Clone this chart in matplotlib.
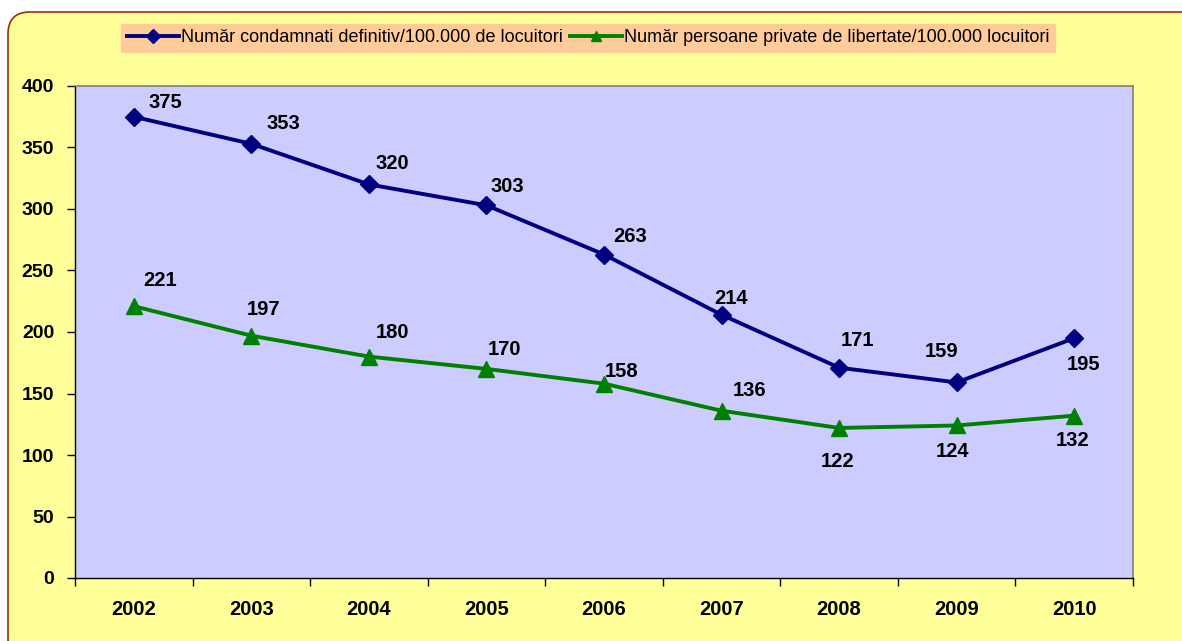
import matplotlib.pyplot as plt
from matplotlib.patches import FancyBboxPatch
from matplotlib.transforms import IdentityTransform
from matplotlib.ticker import FixedLocator

# -------------------------
# Data
# -------------------------
years = ["2002", "2003", "2004", "2005", "2006", "2007", "2008", "2009", "2010"]
condamnati = [375, 353, 320, 303, 263, 214, 171, 159, 195]
privati = [221, 197, 180, 170, 158, 136, 122, 124, 132]

label_condamnati = "Număr condamnati definitiv/100.000 de locuitori"
label_privati = "Număr persoane private de libertate/100.000 locuitori"

# label offsets (pixels, x right / y up) for the data labels
off_condamnati = [(32, 14), (32, 20), (23, 21), (21, 19), (26, 18), (9, 16), (18, 27), (-15, 31), (9, -26)]
off_privati = [(26, 26), (12, 26), (24, 24), (18, 19), (18, 12), (28, 20), (-2, -34), (-4, -26), (-2, -25)]

W, H = 1182, 641
fig = plt.figure(figsize=(W / 100, H / 100), dpi=100)
fig.patch.set_facecolor("white")

# rounded yellow chart background
bg = FancyBboxPatch((8, -20), 1200, H - 12 + 20,
                    boxstyle="round,pad=0,rounding_size=22",
                    transform=IdentityTransform(),
                    facecolor="#FFFF99", edgecolor="#993300", linewidth=1.2,
                    zorder=-10)
fig.patches.append(bg)

ax = fig.add_axes([75 / W, (H - 578) / H, 1058 / W, 492 / H])
ax.set_facecolor("#CCCCFF")

x = list(range(len(years)))
l1, = ax.plot(x, condamnati, color="#000080", lw=2.8, marker="D", ms=9.5, label=label_condamnati)
l2, = ax.plot(x, privati, color="#008000", lw=2.8, marker="^", ms=11, label=label_privati)

lbl_font = dict(family=["Liberation Sans", "DejaVu Sans"], weight="bold", size=14.5)
for xi, v, (dx, dy) in zip(x, condamnati, off_condamnati):
    ax.annotate(str(v), (xi, v), xytext=(dx * 0.72, dy * 0.72), textcoords="offset points",
                ha="center", va="center", **lbl_font)
for xi, v, (dx, dy) in zip(x, privati, off_privati):
    ax.annotate(str(v), (xi, v), xytext=(dx * 0.72, dy * 0.72), textcoords="offset points",
                ha="center", va="center", **lbl_font)

ax.set_xlim(-0.5, len(years) - 0.5)
ax.set_ylim(0, 400)
ax.set_yticks(range(0, 401, 50))

ax.xaxis.set_major_locator(FixedLocator([i - 0.5 for i in range(len(years) + 1)]))
ax.xaxis.set_minor_locator(FixedLocator(x))
ax.set_xticklabels([], minor=False)
ax.set_xticklabels(years, minor=True)
ax.tick_params(axis="x", which="major", direction="out", length=6, width=1, color="black")
ax.tick_params(axis="x", which="minor", length=0, pad=16)
ax.tick_params(axis="y", direction="out", length=6, width=1, pad=9)

for lab in ax.get_xticklabels(minor=True):
    lab.set_fontfamily(["Liberation Sans", "DejaVu Sans"])
    lab.set_fontweight("bold")
    lab.set_fontsize(14.5)
for lab in ax.get_yticklabels():
    lab.set_fontfamily(["Liberation Sans", "DejaVu Sans"])
    lab.set_fontweight("bold")
    lab.set_fontsize(14)

for s in ["top", "right"]:
    ax.spines[s].set_color("#808080")
    ax.spines[s].set_linewidth(1.2)
for s in ["left", "bottom"]:
    ax.spines[s].set_color("black")
    ax.spines[s].set_linewidth(1)

leg = fig.legend(handles=[l1, l2], loc="center", bbox_to_anchor=(588 / W, (H - 38) / H),
                 ncol=2, frameon=True, fancybox=False, handlelength=2.9, handletextpad=0.1,
                 columnspacing=0.4, markerscale=0.7, borderpad=0.3,
                 prop=dict(family=["Liberation Sans Narrow", "Liberation Sans", "DejaVu Sans"], size=13))
leg.get_frame().set_facecolor("#FFCC99")
leg.get_frame().set_edgecolor("#FFCC99")
leg.get_frame().set_alpha(1)

plt.savefig("out.png", dpi=100, facecolor=fig.get_facecolor())
